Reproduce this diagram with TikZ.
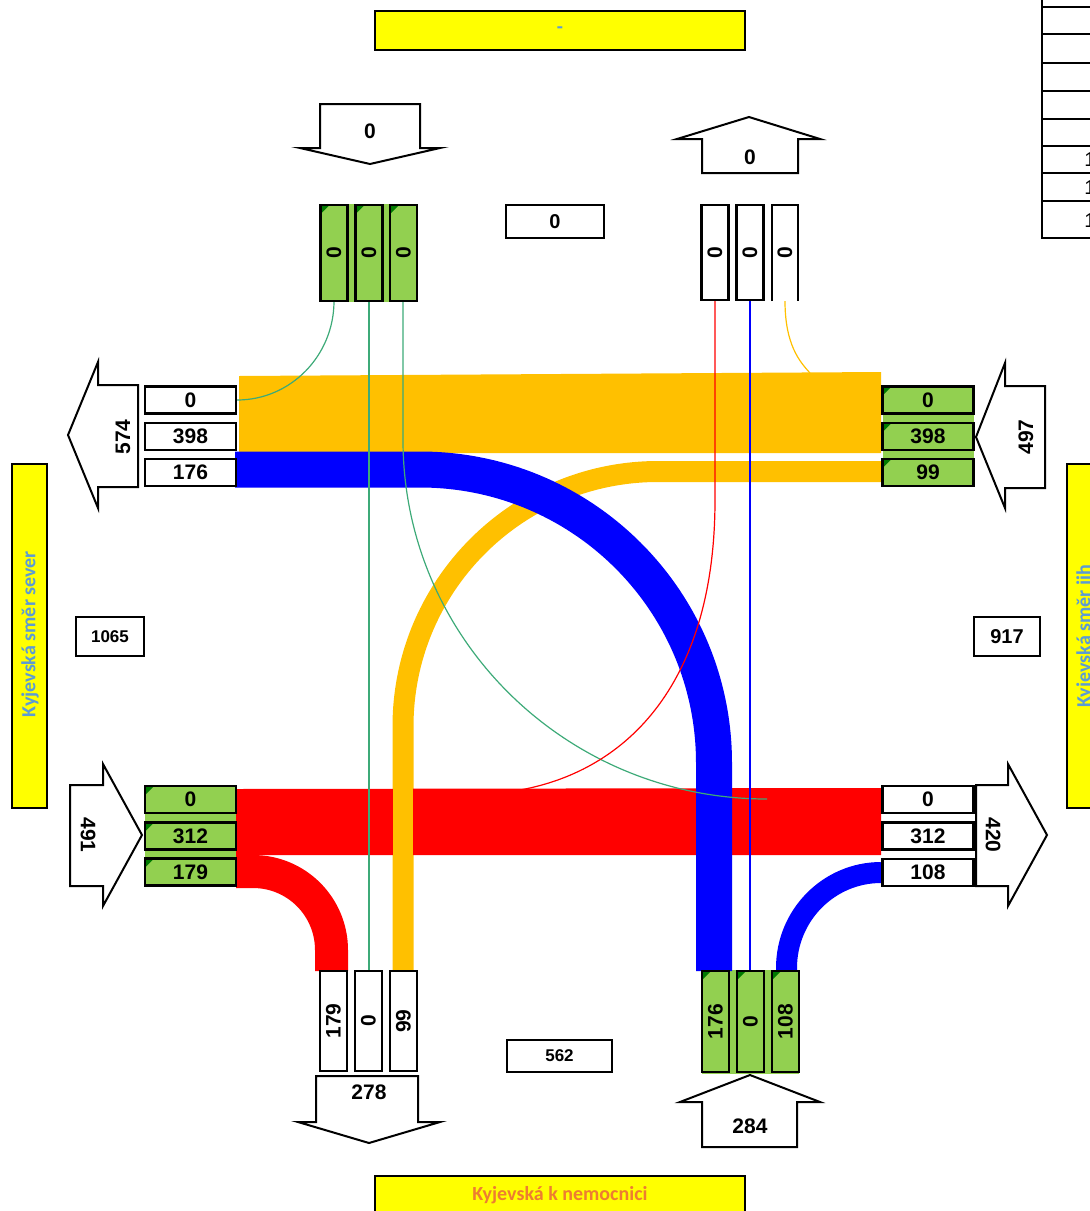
\documentclass[tikz,border=0pt]{standalone}
\usepackage{fontspec}
\setsansfont{Liberation Sans}
\newfontfamily\carl{Carlito}
\definecolor{lgreen}{HTML}{92D050}
\definecolor{dgreen}{HTML}{007A00}
\definecolor{fyellow}{HTML}{FFC000}
\definecolor{fblue}{HTML}{0000FF}
\definecolor{fred}{HTML}{FF0000}
\definecolor{tgreen}{HTML}{3DAA78}
\definecolor{lblue}{HTML}{5B9BD5}
\definecolor{lorange}{HTML}{ED7D31}
\definecolor{lyellow}{HTML}{FFFF00}
\begin{document}
\begin{tikzpicture}[x=0.5pt,y=-0.5pt,
  num/.style={font=\sffamily\bfseries\fontsize{10.5}{12}\selectfont, inner sep=0pt},
  hbox/.style={draw, line width=1.4pt, minimum width=45.5pt, minimum height=13.5pt, inner sep=0pt, font=\sffamily\bfseries\fontsize{10.5}{12}\selectfont},
  vbox/.style={draw, line width=1.4pt, minimum width=13.5pt, inner sep=0pt},
  wf/.style={fill=white},
  gf/.style={fill=lgreen, path picture={\fill[dgreen] (path picture bounding box.north west) -- ++(4.5pt,0pt) -- ++(-4.5pt,-4.5pt) -- cycle;}},
  arrowbody/.style={draw, line width=1pt, fill=white, line join=miter},
  flow/.style={line cap=butt, line join=round},
  thinline/.style={line width=0.6pt},
  ylabel/.style={draw, line width=1pt, fill=lyellow, inner sep=0pt},
  lbltext/.style={font=\carl\bfseries\fontsize{10}{12}\selectfont, inner sep=0pt},
  cbox/.style={draw, line width=1pt, fill=white, inner sep=0pt, font=\sffamily\bfseries\fontsize{8.5}{10}\selectfont},
  tline/.style={line width=1pt},
]
\useasboundingbox (0,0) rectangle (1090,1211);
\clip (0,0) rectangle (1090,1211);

% ---------- table (top right) ----------
\draw[tline] (1042,0) -- (1042,238) -- (1095,238);
\foreach \yy in {7,34,63,91,119,146,173,201} \draw[tline] (1042,\yy) -- (1095,\yy);
\node[font=\sffamily\fontsize{10}{12}\selectfont, anchor=west, inner sep=0pt] (t1) at (1084,160) {1};
\node[font=\sffamily\fontsize{10}{12}\selectfont, anchor=west, inner sep=0pt] (t2) at (1084,188) {1};
\node[font=\sffamily\fontsize{10}{12}\selectfont, anchor=west, inner sep=0pt] (t3) at (1084,221) {1};

% ---------- yellow labels ----------
\node[ylabel, minimum width=185pt, minimum height=19.5pt, lbltext, text=lblue] (ytop) at (560,30.5) {-};
\node[ylabel, minimum width=17.5pt, minimum height=172pt] (yleft) at (29.5,636) {};
\node[lbltext, text=lblue, rotate=90] (ylefttext) at (30,634) {Kyjevská směr sever};
\node[ylabel, minimum width=17.5pt, minimum height=172pt] (yright) at (1084.5,636) {};
\node[lbltext, text=lblue, rotate=90] (yrighttext) at (1085,636) {Kyjevská směr jih};
\node[ylabel, minimum width=185pt, minimum height=19.5pt, lbltext, text=lorange] (ybot) at (560,1195.5) {Kyjevská k nemocnici};

% ---------- big arrows ----------
\draw[arrowbody] (320,104) -- (420,104) -- (420,148) -- (440,148) -- (370,164) -- (300,148) -- (320,148) -- cycle;
\node[num] (aN) at (370,131) {0};
\draw[arrowbody] (702,173) -- (702,139) -- (677,139) -- (749,117) -- (820,139) -- (798,139) -- (798,173) -- cycle;
\node[num] (aNo) at (750,157) {0};
\draw[arrowbody] (138,385) -- (98,385) -- (98,362) -- (68,435) -- (98,508) -- (98,487) -- (138,487) -- cycle;
\node[num, rotate=90] (aW) at (123,437) {574};
\draw[arrowbody] (1005,386) -- (1045,386) -- (1045,488) -- (1005,488) -- (1005,508) -- (976,437) -- (1005,363) -- cycle;
\node[num, rotate=90] (aE) at (1026,437) {497};
\draw[arrowbody] (70,785) -- (103,785) -- (103,764) -- (142,835) -- (103,906) -- (103,886) -- (70,886) -- cycle;
\node[num, rotate=-90] (aWi) at (88,835) {491};
\draw[arrowbody] (976,785) -- (1008,785) -- (1008,764) -- (1047,835) -- (1008,906) -- (1008,886) -- (976,886) -- cycle;
\node[num, rotate=-90] (aEo) at (993,835) {420};
\draw[arrowbody] (316,1076) -- (418,1076) -- (418,1122) -- (440,1122) -- (369,1143) -- (298,1122) -- (316,1122) -- cycle;
\node[num] (aS) at (369,1092) {278};
\draw[arrowbody] (702,1147) -- (702,1102) -- (680,1102) -- (750,1075) -- (820,1102) -- (797,1102) -- (797,1147) -- cycle;
\node[num] (aSi) at (750,1126) {284};

% ---------- centre boxes ----------
\node[cbox, minimum width=49pt, minimum height=16.5pt, font=\sffamily\bfseries\fontsize{10}{12}\selectfont] (cN) at (555,221.5) {0};
\node[cbox, minimum width=34pt, minimum height=19.5pt] (cW) at (110,636.5) {1065};
\node[cbox, minimum width=33pt, minimum height=19.5pt, font=\sffamily\bfseries\fontsize{10}{12}\selectfont] (cE) at (1007,636.5) {917};
\node[cbox, minimum width=52.5pt, minimum height=16pt] (cS) at (559.5,1056) {562};

% ---------- green backgrounds ----------
\fill[lgreen] (319,204) rectangle (418,302);
\fill[lgreen] (883,386) rectangle (974,487);
\fill[lgreen] (145,786) rectangle (236,886);
\fill[lgreen] (702,970) rectangle (799,1074);

% ---------- flows ----------
\fill[fyellow] (239,376) -- (881,372) -- (881,453) -- (239,453) -- cycle;
\draw[flow, fyellow, line width=10.5pt] (881,471.5) -- (658,471.5) .. controls (517.2,471.5) and (403,585.7) .. (403,726.5) -- (403,971);
\fill[fred] (236,789) -- (881,788) -- (881,855) -- (236,855) -- cycle;
\draw[flow, fred, line width=16.5pt] (236,871.5) -- (253,871.5) .. controls (296.4,871.5) and (331.5,906.6) .. (331.5,950) -- (331.5,971);
\draw[flow, fyellow, line width=10pt] (403,780) -- (403,971);
\draw[flow, fblue, line width=18pt] (235,469.5) -- (420,469.5) .. controls (582.4,469.5) and (714,600.6) .. (714,763) -- (714,971);
\draw[flow, fblue, line width=10.5pt] (881,872.5) .. controls (828.8,872.5) and (786.5,915.3) .. (786.5,968) -- (786.5,971);

% ---------- zero flows (thin) ----------
\draw[thinline, tgreen] (334,301) .. controls (334,355.7) and (290.6,400) .. (237,400);
\draw[thinline, tgreen] (369,301) -- (369,971);
\draw[thinline, tgreen] (403,301) -- (403,440) .. controls (403,638.3) and (566,799) .. (767,799);
\draw[thinline, fred] (715,301) -- (715,500) .. controls (715,680) and (630,770) .. (520,790);
\draw[thinline, fblue] (750,301) -- (750,971);
\draw[thinline, fyellow] (785,301) .. controls (785,345) and (800,362) .. (810,373);

% ---------- lane boxes ----------
% north entry (green)
\node[vbox, gf, minimum height=48pt] (n1) at (334,253) {};
\node[num, rotate=90] (n1t) at (n1) {0};
\node[vbox, gf, minimum height=48pt] (n2) at (369,253) {};
\node[num, rotate=90] (n2t) at (n2) {0};
\node[vbox, gf, minimum height=48pt] (n3) at (403.5,253) {};
\node[num, rotate=90] (n3t) at (n3) {0};
% north exit (white)
\node[vbox, wf, minimum height=47.5pt] (m1) at (715,252.5) {};
\node[num, rotate=90] (m1t) at (m1) {0};
\node[vbox, wf, minimum height=47.5pt] (m2) at (750,252.5) {};
\node[num, rotate=90] (m2t) at (m2) {0};
\fill[white] (772,205) rectangle (798,301);
\draw[line width=1.4pt] (772,301) -- (772,205) -- (798,205) -- (798,301);
\node[num, rotate=90] (m3t) at (785,252.5) {0};
% west exit (white)
\node[hbox, wf] (w1) at (190.5,400) {0};
\node[hbox, wf] (w2) at (190.5,436.5) {398};
\node[hbox, wf] (w3) at (190.5,472.5) {176};
% east entry (green)
\node[hbox, gf] (e1) at (928,400) {0};
\node[hbox, gf] (e2) at (928,436.5) {398};
\node[hbox, gf] (e3) at (928,472.5) {99};
% west entry (green)
\node[hbox, gf] (v1) at (190.5,799.5) {0};
\node[hbox, gf] (v2) at (190.5,836) {312};
\node[hbox, gf] (v3) at (190.5,872) {179};
% east exit (white)
\node[hbox, wf] (x1) at (928,799.5) {0};
\node[hbox, wf] (x2) at (928,836) {312};
\node[hbox, wf] (x3) at (928,872.5) {108};
% south exit (white)
\node[vbox, wf, minimum height=50pt] (s1) at (333.5,1021) {};
\node[num, rotate=90] (s1t) at (s1) {179};
\node[vbox, wf, minimum height=50pt] (s2) at (368.5,1021) {};
\node[num, rotate=90] (s2t) at (s2) {0};
\node[vbox, wf, minimum height=50pt] (s3) at (403.5,1021) {};
\node[num, rotate=90] (s3t) at (s3) {99};
% south entry (green)
\node[vbox, gf, minimum height=50.5pt] (u1) at (715.5,1021.5) {};
\node[num, rotate=90] (u1t) at (u1) {176};
\node[vbox, gf, minimum height=50.5pt] (u2) at (750.5,1021.5) {};
\node[num, rotate=90] (u2t) at (u2) {0};
\node[vbox, gf, minimum height=50.5pt] (u3) at (785.5,1021.5) {};
\node[num, rotate=90] (u3t) at (u3) {108};
\end{tikzpicture}
\end{document}
